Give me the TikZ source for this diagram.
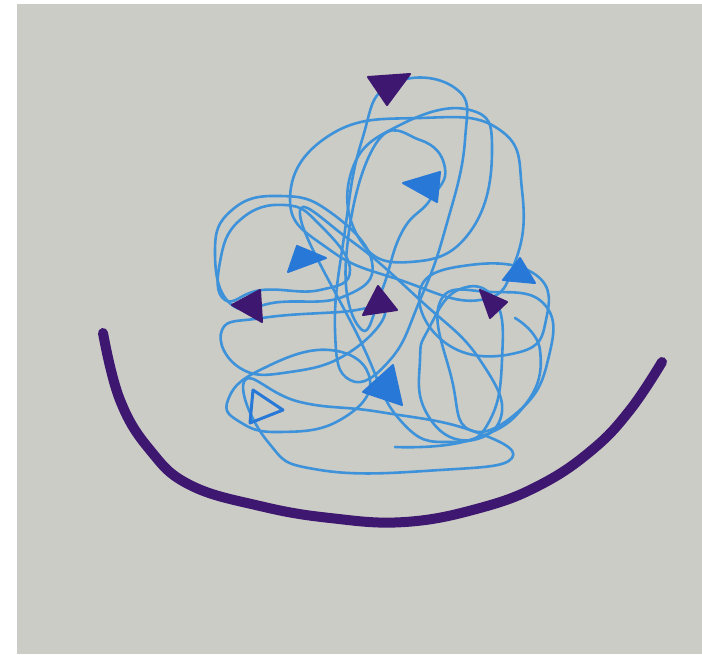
\documentclass[tikz,border=0pt]{standalone}
\usetikzlibrary{arrows.meta}
\definecolor{board}{RGB}{204,204,198}
\definecolor{pen}{RGB}{62,146,218}
\definecolor{penhead}{RGB}{40,120,215}
\definecolor{ink}{RGB}{62,24,112}
\tikzset{
  bluepen/.style={draw=pen, line width=2.6pt, line cap=round, line join=round},
  purplepen/.style={draw=ink, line width=10pt, line cap=round, line join=round},
  bluehead/.style={fill=penhead, draw=penhead, line width=2pt, line join=round},
  purplehead/.style={fill=ink, draw=ink, line width=2pt, line join=round}
}

\begin{document}
\begin{tikzpicture}[x=1pt, y=-1pt]
    \useasboundingbox (0,0) rectangle (702,654);
    % whiteboard photo
    \fill[white] (0,0) rectangle (702,654);
    \fill[board] (17,4) rectangle (702,654);

    % tangle of blue loops
    \draw[bluepen] plot[smooth cycle, tension=0.8] coordinates {(390,85) (455,88) (465,140) (445,230) (420,300) (390,360) (350,380) (335,330) (345,230) (362,140)};
    \draw[bluepen] plot[smooth cycle, tension=0.8] coordinates {(290,200) (330,135) (420,118) (500,130) (522,190) (515,262) (480,300) (400,280) (330,250)};
    \draw[bluepen] plot[smooth cycle, tension=0.8] coordinates {(352,170) (400,125) (470,110) (492,150) (470,232) (410,262) (360,240)};
    \draw[bluepen] plot[smooth cycle, tension=0.8] coordinates {(375,145) (420,140) (445,168) (430,200) (402,232) (382,290) (362,330) (346,260)};
    \draw[bluepen] plot[smooth cycle, tension=0.8] coordinates {(215,252) (232,210) (280,196) (330,212) (372,262) (345,296) (280,302) (232,305)};
    \draw[bluepen] plot[smooth cycle, tension=0.8] coordinates {(220,262) (240,220) (285,205) (320,225) (350,270) (320,290) (262,290) (225,300)};
    \draw[bluepen] plot[smooth cycle, tension=0.8] coordinates {(222,330) (262,318) (340,312) (385,310) (350,352) (290,372) (240,368)};
    \draw[bluepen] plot[smooth cycle, tension=0.8] coordinates {(228,400) (260,370) (330,350) (370,380) (340,420) (280,432) (240,422)};
    \draw[bluepen] plot[smooth cycle, tension=0.8] coordinates {(245,380) (300,402) (380,412) (470,430) (512,458) (440,470) (320,470) (268,442)};
    \draw[bluepen] plot[smooth cycle, tension=0.8] coordinates {(428,330) (458,290) (495,300) (502,360) (490,420) (460,440) (425,410) (420,360)};
    \draw[bluepen] plot[smooth cycle, tension=0.8] coordinates {(440,302) (490,292) (545,305) (548,360) (520,410) (470,430) (452,380)};
    \draw[bluepen] plot[smooth cycle, tension=0.8] coordinates {(420,290) (470,265) (536,275) (546,320) (520,352) (450,346)};
    \draw[bluepen] plot[smooth cycle, tension=0.8] coordinates {(300,215) (350,240) (420,300) (480,360) (500,420) (450,442) (400,420) (360,340)};
    \draw[bluepen] plot[smooth, tension=0.8] coordinates {(395,447) (470,440) (525,405) (540,350) (515,318)};

    % arrow heads on the loops
    \filldraw[purplehead] (368,77) -- (410,74) -- (387,105) -- cycle;
    \filldraw[bluehead] (403,183) -- (440,172) -- (437,202) -- cycle;
    \filldraw[bluehead] (288,272) -- (297,246) -- (326,258) -- cycle;
    \filldraw[purplehead] (232,305) -- (260,290) -- (262,322) -- cycle;
    \filldraw[purplehead] (363,315) -- (378,286) -- (397,310) -- cycle;
    \filldraw[purplehead] (480,290) -- (507,302) -- (490,318) -- cycle;
    \filldraw[bluehead] (503,280) -- (520,258) -- (535,283) -- cycle;
    \filldraw[bluehead] (363,392) -- (393,365) -- (402,405) -- cycle;
    \draw[bluehead, fill=none, line width=3pt] (253,390) -- (250,423) -- (283,410) -- cycle;

    % purple arc underneath
    \draw[purplepen] plot[smooth, tension=0.7] coordinates {(103,333) (120,400) (150,450) (190,485) (260,506) (330,518) (405,522) (480,508) (540,485) (592,450) (630,410) (662,362)};
\end{tikzpicture}
\end{document}
